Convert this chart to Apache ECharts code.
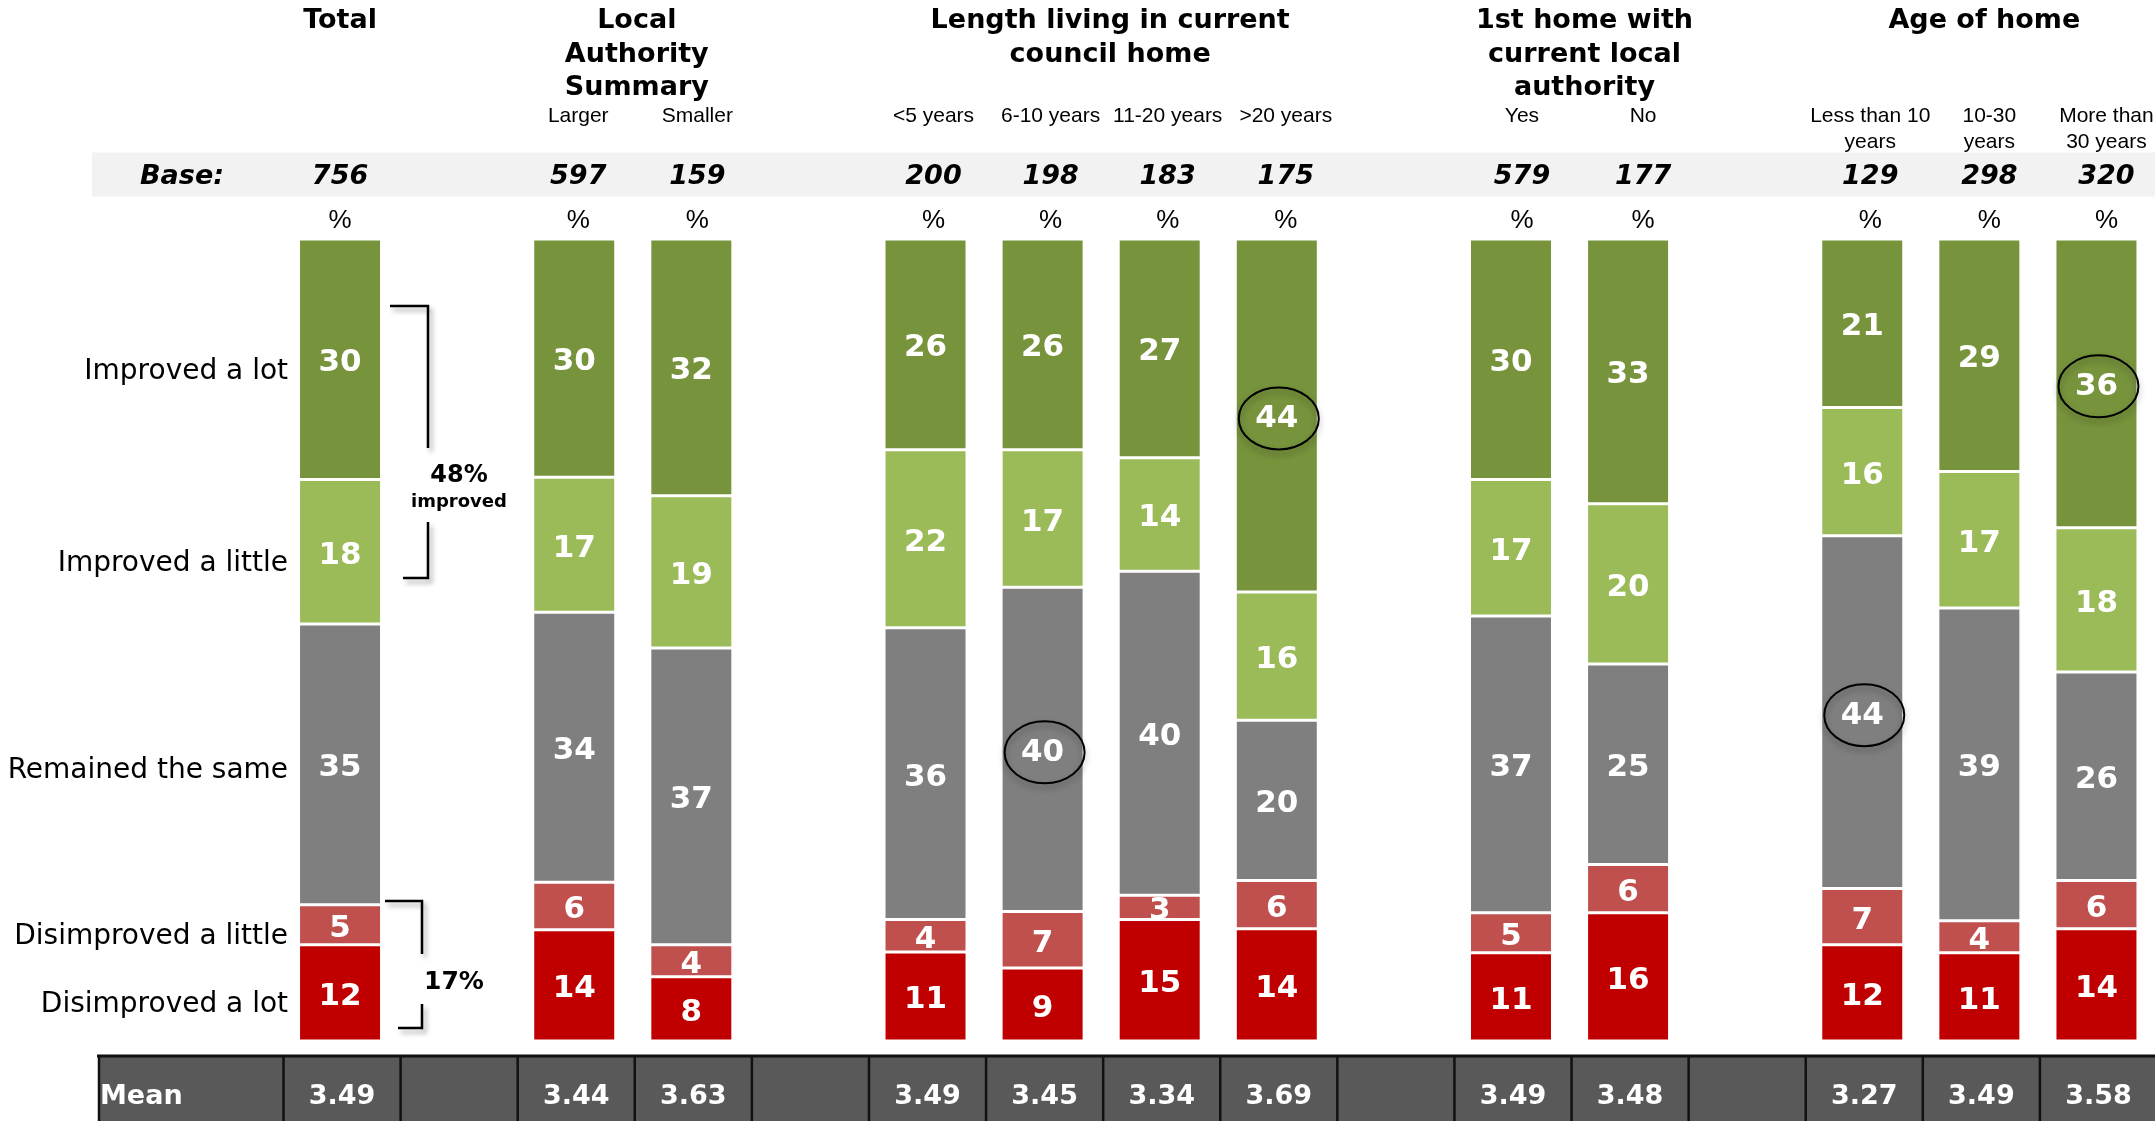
<!DOCTYPE html>
<html>
<head>
<meta charset="utf-8">
<script src="https://cdn.jsdelivr.net/npm/echarts@6/dist/echarts.min.js"></script>
<style>
  html, body { margin: 0; padding: 0; background: #fff; overflow: hidden; }
  #chart { width: 2155px; height: 1121px; }
</style>
</head>
<body>
<div id="chart"></div>
<script>
// Column slots across the page; null marks a spacer between groups
const slots = ['Total', null, 'Larger', 'Smaller', null,
  '<5 years', '6-10 years', '11-20 years', '>20 years', null,
  'Yes', 'No', null,
  'Less than 10\nyears', '10-30\nyears', 'More than\n30 years'];

// Percentages per response, same slot order
const improvedLot    = [30, null, 30, 32, null, 26, 26, 27, 44, null, 30, 33, null, 21, 29, 36];
const improvedLittle = [18, null, 17, 19, null, 22, 17, 14, 16, null, 17, 20, null, 16, 17, 18];
const remainedSame   = [35, null, 34, 37, null, 36, 40, 40, 20, null, 37, 25, null, 44, 39, 26];
const disLittle      = [5,  null, 6,  4,  null, 4,  7,  3,  6,  null, 5,  6,  null, 7,  4,  6];
const disLot         = [12, null, 14, 8,  null, 11, 9,  15, 14, null, 11, 16, null, 12, 11, 14];

const bases = [756, null, 597, 159, null, 200, 198, 183, 175, null, 579, 177, null, 129, 298, 320];
const means = ['3.49', null, '3.44', '3.63', null, '3.49', '3.45', '3.34', '3.69', null, '3.49', '3.48', null, '3.27', '3.49', '3.58'];

const responses = ['Disimproved a lot', 'Disimproved a little', 'Remained the same', 'Improved a little', 'Improved a lot'];

const groupTitles = [
  { text: 'Total', first: 0, last: 0, dx: 0 },
  { text: 'Local\nAuthority\nSummary', first: 2, last: 3, dx: 4 },
  { text: 'Length living in current\ncouncil home', first: 5, last: 8, dx: 9 },
  { text: '1st home with\ncurrent local\nauthority', first: 10, last: 11, dx: 15 },
  { text: 'Age of home', first: 13, last: 15, dx: 5 }
];

// Highlighted cells (ringed values): slot and response index
const highlights = [
  { slot: 8, resp: 4 },
  { slot: 6, resp: 2 },
  { slot: 13, resp: 2 },
  { slot: 15, resp: 4 }
];

// Small horizontal nudge of the header texts per column
const textNudge = [0, 0, 4, 6, 0, 8, 8, 8, 9, 0, 11, 15, 0, 8, 10, 10];
// Vertical nudge of the response names beside the Total column
const respNudge = [12, 12, 6, 12, 12];

const colors = ['#C00000', '#C0504D', '#7F7F7F', '#9BBB59', '#77933C'];

// bottom-to-top stacking order
const rawSeries = [disLot, disLittle, remainedSame, improvedLittle, improvedLot];
const sums = slots.map((s, i) => s === null ? 0 : rawSeries.reduce((a, arr) => a + arr[i], 0));
const normSeries = rawSeries.map(arr => arr.map((v, i) => v === null ? '-' : v / sums[i] * 100));

const slotKeys = slots.map((s, i) => s === null ? 'gap' + i : s);

const chart = echarts.init(document.getElementById('chart'), null, { renderer: 'canvas' });

const option = {
  animation: false,
  backgroundColor: '#ffffff',
  grid: { left: 281.5, top: 239, width: 1874, height: 802, containLabel: false },
  xAxis: {
    type: 'category', data: slotKeys, show: false, boundaryGap: true
  },
  yAxis: { type: 'value', min: 0, max: 100, show: false },
  series: rawSeries.map((arr, k) => ({
    name: responses[k],
    type: 'bar',
    stack: 'all',
    barWidth: 83,
    data: normSeries[k],
    itemStyle: { color: colors[k], borderColor: '#ffffff', borderWidth: 1.5 },
    label: {
      show: true,
      position: 'inside',
      offset: [0, 4],
      color: '#ffffff',
      fontFamily: 'DejaVu Sans',
      fontWeight: 'bold',
      fontSize: 31,
      formatter: p => String(arr[p.dataIndex])
    }
  }))
};

chart.setOption(option);

function px(slot, val) {
  return chart.convertToPixel({ xAxisIndex: 0, yAxisIndex: 0 }, [slot, val]);
}
const slotW = px(1, 0)[0] - px(0, 0)[0];
function segCenter(slot, k) {
  let below = 0;
  for (let j = 0; j < k; j++) below += normSeries[j][slot];
  return below + normSeries[k][slot] / 2;
}

const g = [];
const txt = (text, x, y, font, fill, align, vAlign, extra) => ({
  type: 'text', silent: true,
  style: Object.assign({
    text, x, y, font, fill: fill || '#000',
    align: align || 'center', verticalAlign: vAlign || 'middle',
    textAlign: align || 'center', textVerticalAlign: vAlign || 'middle'
  }, extra || {})
});

const headFont = 'bold 27px "DejaVu Sans"';
const subFont = '21px "Liberation Sans", Arial, sans-serif';

// Group titles
groupTitles.forEach(gt => {
  const cx = (px(gt.first, 0)[0] + px(gt.last, 0)[0]) / 2 + gt.dx;
  g.push(txt(gt.text, cx, 4.5, headFont, '#000', 'center', 'top', { lineHeight: 33.5 }));
});

// Base band
g.push({ type: 'rect', silent: true, z: -1, shape: { x: 92, y: 152.5, width: 2070, height: 44 }, style: { fill: '#F2F2F2' } });
g.push(txt('Base:', 182, 176.5, 'italic bold 27px "DejaVu Sans"', '#000'));

slots.forEach((s, i) => {
  if (s === null) return;
  const cx = px(i, 0)[0] + textNudge[i];
  if (i !== 0) g.push(txt(s, cx, 103, subFont, '#000', 'center', 'top', { lineHeight: 26 }));
  g.push(txt(String(bases[i]), cx, 176.5, 'italic bold 27px "DejaVu Sans"', '#000'));
  g.push(txt('%', cx, 221, '26px "Liberation Sans", Arial, sans-serif', '#000'));
});

// Response names beside the Total column
const totalLeft = px(0, 0)[0] - 41;
responses.forEach((r, k) => {
  const y = px(0, segCenter(0, k))[1] + respNudge[k];
  g.push(txt(r, totalLeft - 11, y, '28px "DejaVu Sans"', '#000', 'right', 'middle'));
});

// Net brackets
const shadow = { shadowBlur: 5, shadowColor: 'rgba(0,0,0,0.35)', shadowOffsetX: 3, shadowOffsetY: 4 };
const bracketStyle = Object.assign({ stroke: '#000', lineWidth: 2.5, fill: null }, shadow);
g.push({ type: 'polyline', silent: true, shape: { points: [[390, 306], [428, 306], [428, 448]] }, style: bracketStyle });
g.push({ type: 'polyline', silent: true, shape: { points: [[428, 522], [428, 578], [403, 578]] }, style: bracketStyle });
g.push(txt('48%', 459, 476, 'bold 24px "DejaVu Sans"', '#000'));
g.push(txt('improved', 459, 502, 'bold 18px "DejaVu Sans"', '#000'));

g.push({ type: 'polyline', silent: true, shape: { points: [[385, 901], [422, 901], [422, 954]] }, style: bracketStyle });
g.push({ type: 'polyline', silent: true, shape: { points: [[422, 1004], [422, 1028], [398, 1028]] }, style: bracketStyle });
g.push(txt('17%', 454, 982, 'bold 25px "DejaVu Sans"', '#000'));

// Rings around highlighted values
highlights.forEach(h => {
  const p = px(h.slot, segCenter(h.slot, h.resp));
  g.push({
    type: 'ellipse', silent: true, z: 100,
    shape: { cx: p[0] + 2, cy: p[1] + 3, rx: 40, ry: 31 },
    style: { fill: null, stroke: '#000', lineWidth: 2,
      shadowBlur: 6, shadowColor: 'rgba(0,0,0,0.35)', shadowOffsetX: 0, shadowOffsetY: 4 }
  });
});

// Mean table
const tableTop = 1055;
g.push({ type: 'rect', silent: true, shape: { x: 98, y: tableTop, width: 2070, height: 80 }, style: { fill: '#595959' } });
g.push({ type: 'line', silent: true, z: 5, shape: { x1: 97, y1: tableTop + 1, x2: 2160, y2: tableTop + 1 }, style: { stroke: '#111', lineWidth: 3 } });
g.push({ type: 'line', silent: true, z: 5, shape: { x1: 99, y1: tableTop, x2: 99, y2: 1125 }, style: { stroke: '#111', lineWidth: 2.5 } });
slots.forEach((s, i) => {
  const edge = px(i, 0)[0] - slotW / 2 + 2;
  g.push({ type: 'line', silent: true, z: 5, shape: { x1: edge, y1: tableTop, x2: edge, y2: 1125 }, style: { stroke: '#111', lineWidth: 2.5 } });
  if (means[i] !== null) g.push(txt(means[i], px(i, 0)[0] + 2, 1097, 'bold 27px "DejaVu Sans"', '#fff'));
});
g.push(txt('Mean', 100, 1097, 'bold 27px "DejaVu Sans"', '#fff', 'left', 'middle'));

chart.setOption({ graphic: g });
</script>
</body>
</html>
